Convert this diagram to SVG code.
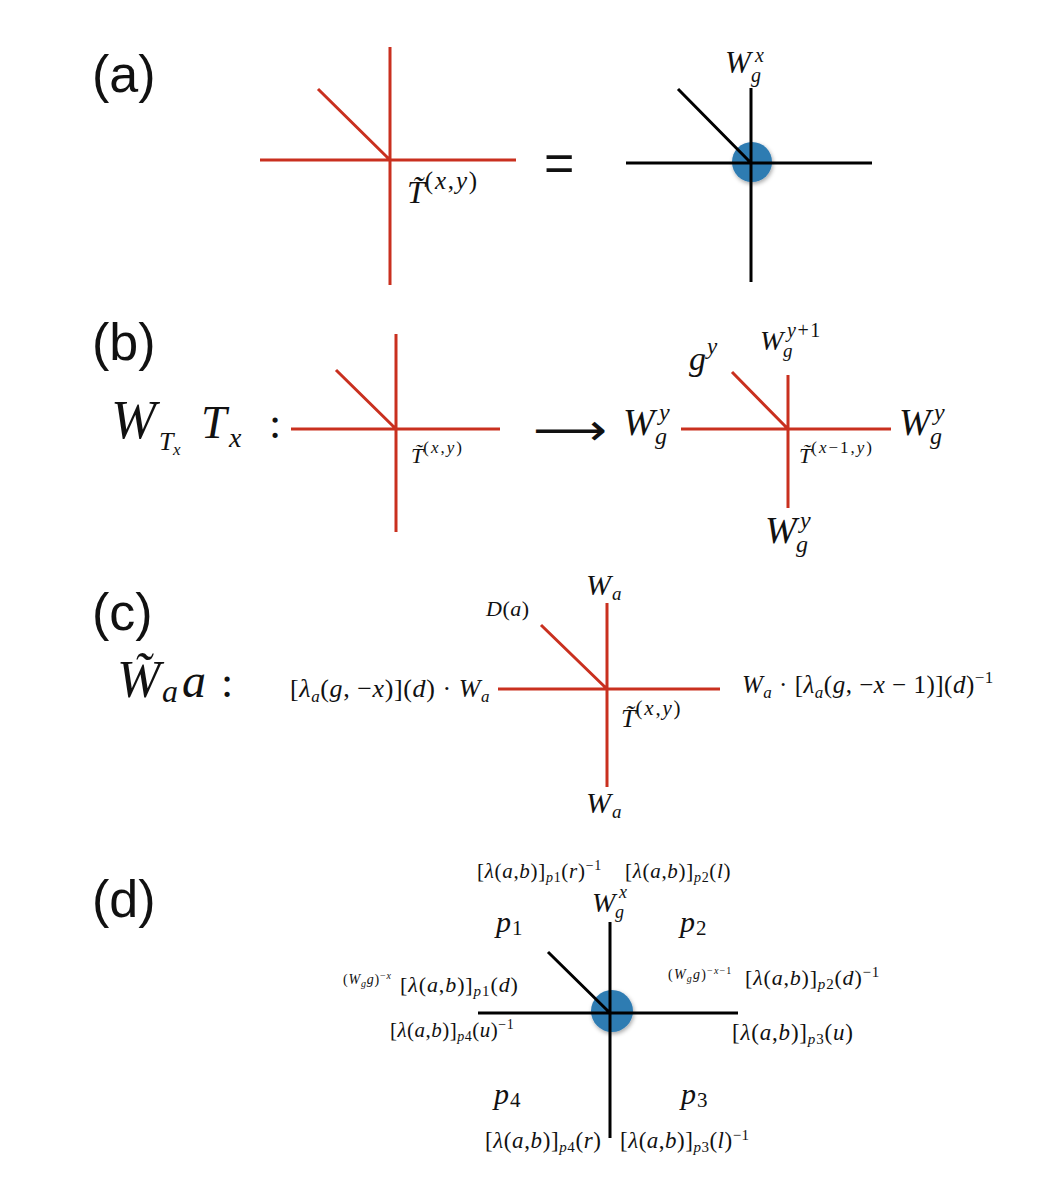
<svg xmlns="http://www.w3.org/2000/svg" width="1050" height="1182" viewBox="0 0 1050 1182">
<defs>
<style>
.m{font-family:"Liberation Serif","DejaVu Serif",serif;font-style:italic;fill:#111}
.r{font-style:normal}
.p{font-family:"Liberation Sans","DejaVu Sans",sans-serif;font-size:52px;fill:#111}
.red{stroke:#c9301f;stroke-width:3;fill:none}
.blk{stroke:#000;stroke-width:3;fill:none}
.dot{fill:#2f7bb2}
</style>
<filter id="sh" x="-50%" y="-50%" width="200%" height="200%">
<feDropShadow dx="1" dy="2" stdDeviation="2" flood-color="#000" flood-opacity="0.35"/>
</filter>
</defs>
<rect width="1050" height="1182" fill="#fff"/>

<!-- panel labels -->
<g id="labels">
<text class="p" x="92" y="92">(a)</text>
<text class="p" x="92" y="360">(b)</text>
<text class="p" x="92" y="630">(c)</text>
<text class="p" x="92" y="917">(d)</text>
</g>

<!-- nodes (vertices and their labels) -->
<g id="node-a-left">
<text class="m" x="407" y="203" font-size="32">T̃<tspan dy="-14" font-size="25" letter-spacing="1.8"><tspan class="r">(</tspan>x<tspan class="r">,</tspan>y<tspan class="r">)</tspan></tspan></text>
</g>
<g id="equals">
<text class="p" x="544" y="181" font-size="44">=</text>
</g>
<g id="node-a-right">
<circle class="dot" cx="752" cy="162" r="20" filter="url(#sh)"/>
<text class="m" font-size="31"><tspan x="725" y="73">W</tspan><tspan x="755" y="62" font-size="20">x</tspan><tspan x="751" y="82" font-size="20">g</tspan></text>
</g>

<g id="node-b-left">
<text class="m" font-size="54"><tspan x="111" y="438">W</tspan><tspan x="159" y="450" font-size="26">T</tspan><tspan x="173" y="455" font-size="17">x</tspan><tspan x="201" y="438" font-size="46">T</tspan><tspan x="229" y="447" font-size="28">x</tspan><tspan x="269" y="438" font-size="44" class="r">:</tspan></text>
<text class="m" x="411" y="463" font-size="22">T̃<tspan dy="-10" font-size="17" letter-spacing="2"><tspan class="r">(</tspan>x<tspan class="r">,</tspan>y<tspan class="r">)</tspan></tspan></text>
</g>
<g id="arrow-b">
<text x="533" y="445" font-family="DejaVu Sans,sans-serif" font-size="44" textLength="74" lengthAdjust="spacingAndGlyphs" fill="#111">⟶</text>
</g>
<g id="node-b-right">
<text class="m" font-size="38"><tspan x="623" y="435">W</tspan><tspan x="659" y="420" font-size="24">y</tspan><tspan x="655" y="444" font-size="24">g</tspan></text>
<text class="m" font-size="34"><tspan x="689" y="370">g</tspan><tspan x="707" y="354" font-size="23">y</tspan></text>
<text class="m" font-size="28"><tspan x="760" y="350">W</tspan><tspan x="787" y="337" font-size="20" letter-spacing="1.5">y<tspan class="r">+1</tspan></tspan><tspan x="783" y="357" font-size="19">g</tspan></text>
<text class="m" font-size="38"><tspan x="899" y="435">W</tspan><tspan x="934" y="420" font-size="24">y</tspan><tspan x="930" y="444" font-size="24">g</tspan></text>
<text class="m" font-size="38"><tspan x="765" y="543">W</tspan><tspan x="800" y="528" font-size="24">y</tspan><tspan x="796" y="552" font-size="24">g</tspan></text>
<text class="m" x="799" y="463" font-size="22">T̃<tspan dy="-10" font-size="17" letter-spacing="2"><tspan class="r">(</tspan>x<tspan class="r">−1,</tspan>y<tspan class="r">)</tspan></tspan></text>
</g>

<g id="node-c">
<text class="m" font-size="52"><tspan x="117" y="697">W̃</tspan><tspan x="162" y="702" font-size="32">a</tspan><tspan x="182" y="697" font-size="48">a</tspan><tspan x="221" y="697" font-size="44" class="r">:</tspan></text>
<text class="m" x="290" y="697" font-size="26" letter-spacing="0.6"><tspan class="r">[</tspan>λ<tspan dy="5" font-size="17">a</tspan><tspan dy="-5" class="r">(</tspan>g<tspan class="r">, −</tspan>x<tspan class="r">)](</tspan>d<tspan class="r">) · </tspan>W<tspan dy="5" font-size="17">a</tspan></text>
<text class="m" x="742" y="693" font-size="25" letter-spacing="0.5">W<tspan dy="5" font-size="17">a</tspan><tspan dy="-5" class="r"> · [</tspan>λ<tspan dy="5" font-size="17">a</tspan><tspan dy="-5" class="r">(</tspan>g<tspan class="r">, −</tspan>x<tspan class="r"> − 1)](</tspan>d<tspan class="r">)</tspan><tspan dy="-10" font-size="17" class="r">−1</tspan></text>
<text class="m" x="486" y="616" font-size="22" letter-spacing="0.5">D<tspan class="r">(</tspan>a<tspan class="r">)</tspan></text>
<text class="m" font-size="30"><tspan x="586" y="595">W</tspan><tspan x="612" y="600" font-size="19">a</tspan></text>
<text class="m" font-size="30"><tspan x="586" y="813">W</tspan><tspan x="612" y="818" font-size="19">a</tspan></text>
<text class="m" x="621" y="727" font-size="26">T̃<tspan dy="-12" font-size="21" letter-spacing="1.8"><tspan class="r">(</tspan>x<tspan class="r">,</tspan>y<tspan class="r">)</tspan></tspan></text>
</g>

<g id="node-d">
<circle class="dot" cx="612" cy="1011" r="21" filter="url(#sh)"/>
<text class="m" font-size="28"><tspan x="592" y="912">W</tspan><tspan x="619" y="898" font-size="18">x</tspan><tspan x="615" y="918" font-size="18">g</tspan></text>
<text class="m" font-size="30"><tspan x="496" y="932">p</tspan><tspan x="512" y="935" font-size="21" class="r">1</tspan></text>
<text class="m" font-size="30"><tspan x="680" y="932">p</tspan><tspan x="696" y="935" font-size="21" class="r">2</tspan></text>
<text class="m" font-size="30"><tspan x="494" y="1104">p</tspan><tspan x="510" y="1107" font-size="21" class="r">4</tspan></text>
<text class="m" font-size="30"><tspan x="681" y="1104">p</tspan><tspan x="697" y="1107" font-size="21" class="r">3</tspan></text>

<text class="m" x="477" y="878" font-size="21" letter-spacing="0.7"><tspan class="r">[</tspan>λ<tspan class="r">(</tspan>a<tspan class="r">,</tspan>b<tspan class="r">)]</tspan><tspan dy="4" font-size="14">p<tspan class="r">1</tspan></tspan><tspan dy="-4" class="r">(</tspan>r<tspan class="r">)</tspan><tspan dy="-8" font-size="14" class="r">−1</tspan></text>
<text class="m" x="625" y="878" font-size="21" letter-spacing="0.7"><tspan class="r">[</tspan>λ<tspan class="r">(</tspan>a<tspan class="r">,</tspan>b<tspan class="r">)]</tspan><tspan dy="4" font-size="14">p<tspan class="r">2</tspan></tspan><tspan dy="-4" class="r">(</tspan>l<tspan class="r">)</tspan></text>

<text class="m" x="343" y="984" font-size="14" letter-spacing="0.8"><tspan class="r">(</tspan>W<tspan dy="3" font-size="10">g</tspan><tspan dy="-3">g</tspan><tspan class="r">)</tspan><tspan dy="-5" font-size="10"><tspan class="r">−</tspan>x</tspan><tspan x="400" y="992" font-size="22" letter-spacing="0.9"><tspan class="r">[</tspan>λ<tspan class="r">(</tspan>a<tspan class="r">,</tspan>b<tspan class="r">)]</tspan><tspan dy="4" font-size="15">p<tspan class="r">1</tspan></tspan><tspan dy="-4" class="r">(</tspan>d<tspan class="r">)</tspan></tspan></text>

<text class="m" x="668" y="979" font-size="14" letter-spacing="1.2"><tspan class="r">(</tspan>W<tspan dy="3" font-size="10">g</tspan><tspan dy="-3">g</tspan><tspan class="r">)</tspan><tspan dy="-5" font-size="10"><tspan class="r">−</tspan>x<tspan class="r">−1</tspan></tspan><tspan x="745" y="985" font-size="22" letter-spacing="0.8"><tspan class="r">[</tspan>λ<tspan class="r">(</tspan>a<tspan class="r">,</tspan>b<tspan class="r">)]</tspan><tspan dy="4" font-size="15">p<tspan class="r">2</tspan></tspan><tspan dy="-4" class="r">(</tspan>d<tspan class="r">)</tspan><tspan dy="-8" font-size="15" class="r">−1</tspan></tspan></text>

<text class="m" x="390" y="1037" font-size="21" letter-spacing="0.5"><tspan class="r">[</tspan>λ<tspan class="r">(</tspan>a<tspan class="r">,</tspan>b<tspan class="r">)]</tspan><tspan dy="4" font-size="14">p<tspan class="r">4</tspan></tspan><tspan dy="-4" class="r">(</tspan>u<tspan class="r">)</tspan><tspan dy="-8" font-size="14" class="r">−1</tspan></text>
<text class="m" x="732" y="1040" font-size="23" letter-spacing="0.8"><tspan class="r">[</tspan>λ<tspan class="r">(</tspan>a<tspan class="r">,</tspan>b<tspan class="r">)]</tspan><tspan dy="4" font-size="15">p<tspan class="r">3</tspan></tspan><tspan dy="-4" class="r">(</tspan>u<tspan class="r">)</tspan></text>
<text class="m" x="485" y="1148" font-size="23" letter-spacing="0.6"><tspan class="r">[</tspan>λ<tspan class="r">(</tspan>a<tspan class="r">,</tspan>b<tspan class="r">)]</tspan><tspan dy="4" font-size="15">p<tspan class="r">4</tspan></tspan><tspan dy="-4" class="r">(</tspan>r<tspan class="r">)</tspan></text>
<text class="m" x="620" y="1148" font-size="23" letter-spacing="0.5"><tspan class="r">[</tspan>λ<tspan class="r">(</tspan>a<tspan class="r">,</tspan>b<tspan class="r">)]</tspan><tspan dy="4" font-size="15">p<tspan class="r">3</tspan></tspan><tspan dy="-4" class="r">(</tspan>l<tspan class="r">)</tspan><tspan dy="-8" font-size="15" class="r">−1</tspan></text>
</g>

<!-- connectors (legs) -->
<g id="connectors">
<path class="red" d="M390 47V285M260 160H516M318 89L390 160"/>
<path class="blk" d="M751 88V282M626 163H872M678 89L751 163"/>
<path class="red" d="M396 334V532M291 429H500M336 370L396 429"/>
<path class="red" d="M788 375V508M681 429H891M732 372L788 429"/>
<path class="red" d="M607 603V787M498 689H720M541 625L607 689"/>
<path class="blk" d="M610 922V1138M478 1013H738M548 952L610 1013"/>
</g>
</svg>
